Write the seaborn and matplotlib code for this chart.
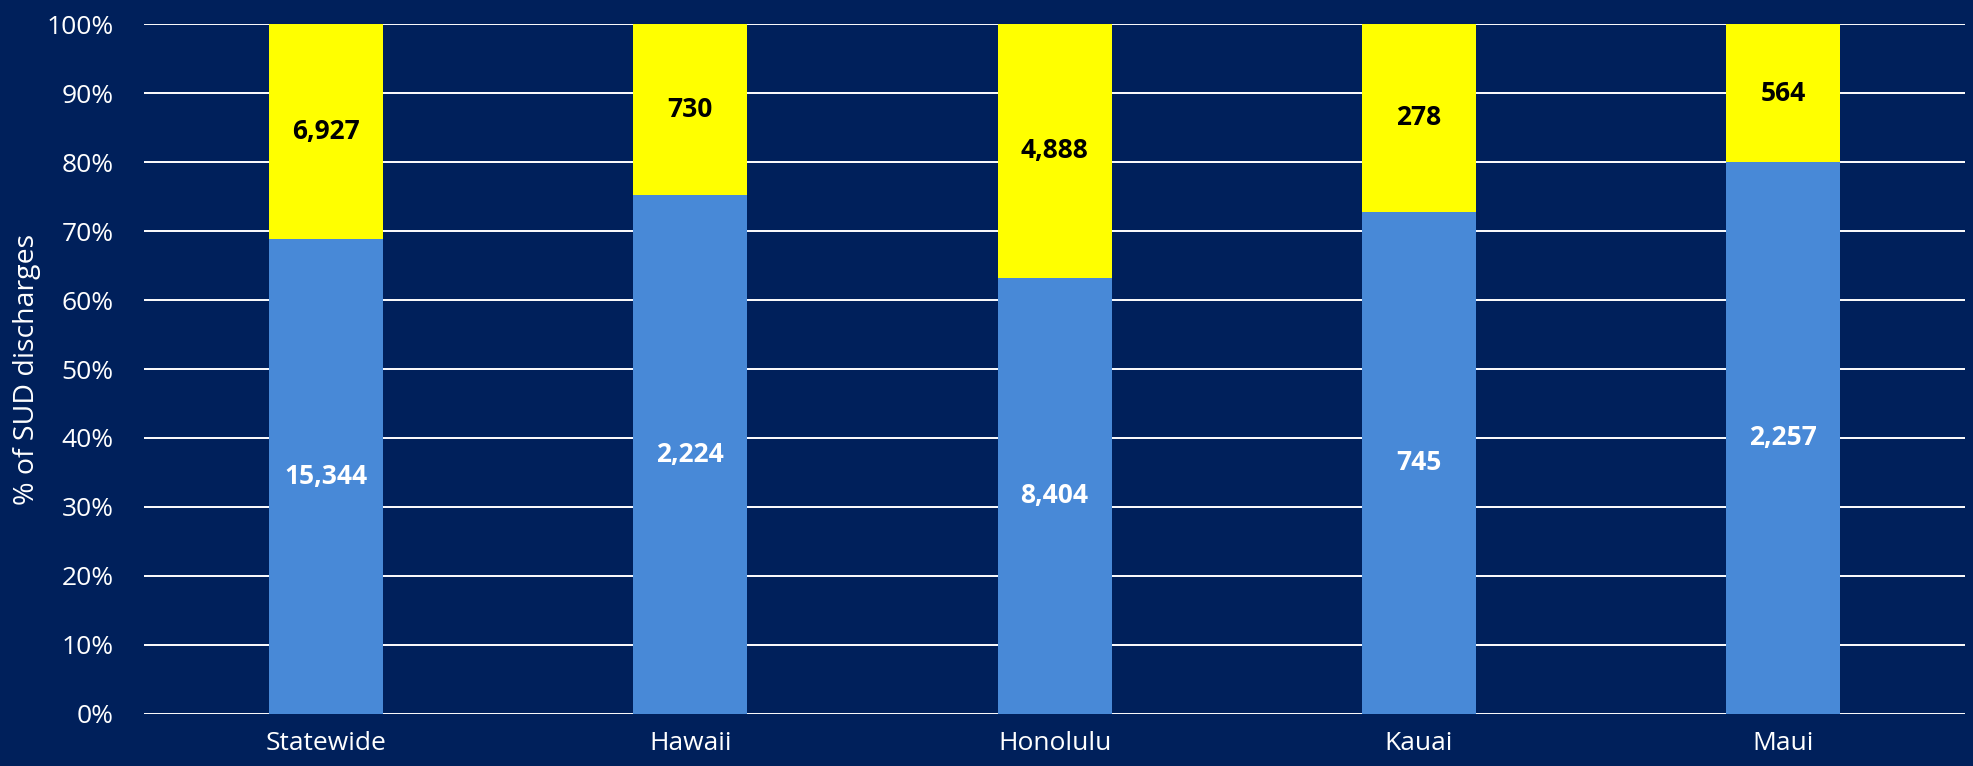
import numpy as np
import pandas as pd
import matplotlib
matplotlib.use("Agg")
import matplotlib.pyplot as plt
import seaborn as sns

# Discharge counts by county
regions = ["Statewide", "Hawaii", "Honolulu", "Kauai", "Maui"]
lower_counts = [15344, 2224, 8404, 745, 2257]
upper_counts = [6927, 730, 4888, 278, 564]

NAVY = "#00205B"
BLUE = "#4889D7"
YELLOW = "#FFFF00"

sns.set_theme(style="white")
plt.rcParams["font.family"] = ["Open Sans", "DejaVu Sans"]

lower = np.array(lower_counts, dtype=float)
upper = np.array(upper_counts, dtype=float)
total = lower + upper
lower_pct = lower / total * 100
upper_pct = upper / total * 100

df = pd.DataFrame({
    "region": regions,
    "lower_pct": lower_pct,
    "stack_top": lower_pct + upper_pct,
})

fig = plt.figure(figsize=(19.74, 7.66), dpi=100, facecolor=NAVY)
ax = fig.add_axes([0.073, 0.068, 0.9225, 0.9005])
ax.set_facecolor(NAVY)

# Gridlines behind bars
ax.set_axisbelow(True)
ax.yaxis.grid(True, color="white", linewidth=1.4)
ax.xaxis.grid(False)

sns.barplot(data=df, x="region", y="stack_top", color=YELLOW, width=0.313,
            saturation=1, linewidth=0, edgecolor="none", ax=ax, zorder=3)
sns.barplot(data=df, x="region", y="lower_pct", color=BLUE, width=0.313,
            saturation=1, linewidth=0, edgecolor="none", ax=ax, zorder=4)

for i in range(len(regions)):
    ax.text(i, lower_pct[i] / 2, f"{int(lower[i]):,}", ha="center", va="center",
            color="white", fontsize=19, fontweight="bold", zorder=5)
    ax.text(i, lower_pct[i] + upper_pct[i] / 2, f"{int(upper[i]):,}",
            ha="center", va="center", color="black", fontsize=19,
            fontweight="bold", zorder=5)

ax.set_xlim(-0.5, len(regions) - 0.5)
ax.set_ylim(0, 100)
ax.set_yticks(np.arange(0, 101, 10))
ax.set_yticklabels([f"{v}%" for v in range(0, 101, 10)])
ax.tick_params(axis="both", colors="white", labelsize=19, length=0)
ax.tick_params(axis="y", pad=22)
ax.tick_params(axis="x", pad=12)
ax.set_xlabel("")
ax.set_ylabel("% of SUD discharges", color="white", fontsize=20.5, labelpad=4)

for spine in ax.spines.values():
    spine.set_visible(False)

fig.savefig("out.png", dpi=100, facecolor=NAVY)
